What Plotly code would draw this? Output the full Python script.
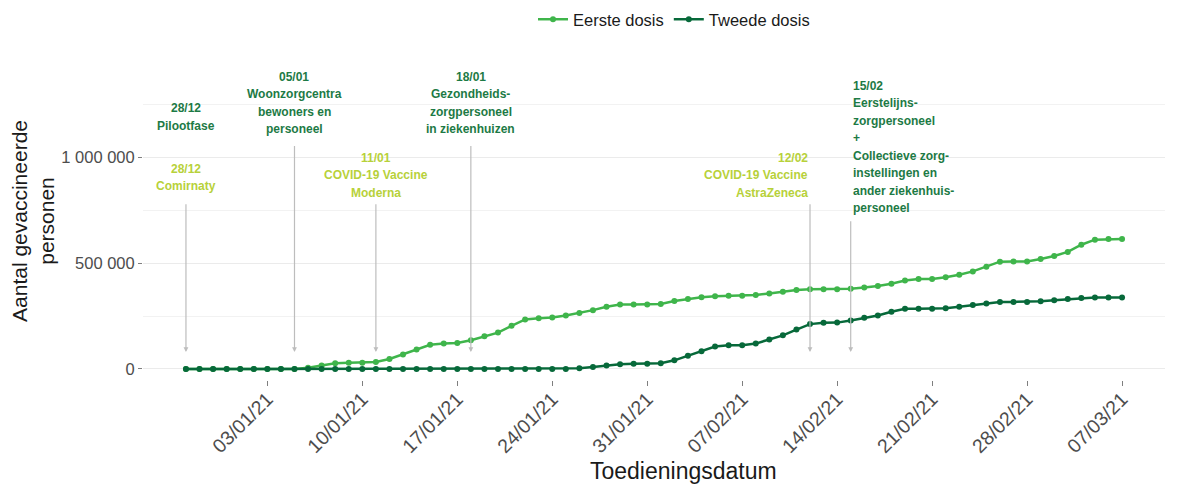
import plotly.graph_objects as go
import pandas as pd

# ---- data ----
dates = [d.strftime("%Y-%m-%d") for d in pd.date_range("2020-12-28", "2021-03-07", freq="D")]

eerste_dosis = [0, 0, 0, 0, 0, 0, 0, 0, 0,
                6000, 16000, 27000, 30000, 30000, 33000, 47000, 69000, 92000, 114000,
                120000, 123000, 136000, 155000, 172000, 204000, 234000, 240000, 243000, 253000,
                265000, 278000, 294000, 305000, 305000, 305000, 307000, 321000, 330000, 339000,
                344000, 346000, 346000, 349000, 357000, 365000, 373000, 377000, 377000, 377000,
                379000, 385000, 392000, 403000, 418000, 425000, 425000, 433000, 445000, 461000,
                483000, 507000, 508000, 508000, 520000, 534000, 553000, 587000, 611000, 614000,
                614000]

tweede_dosis = [0] * 29 + [3000, 9500, 16000, 22000, 25000, 25000, 27000, 41000, 62000, 84000,
                           106000, 112000, 112000, 120000, 139000, 159000, 186000, 212000, 218000, 219000,
                           229000, 242000, 253000, 270000, 284000, 284000, 284000, 287000, 294000, 302000,
                           309000, 316000, 317000, 317000, 320000, 325000, 330000, 335000, 338000, 338000,
                           338000]

x_tickvals = ["2021-01-03", "2021-01-10", "2021-01-17", "2021-01-24", "2021-01-31",
              "2021-02-07", "2021-02-14", "2021-02-21", "2021-02-28", "2021-03-07"]
x_ticktext = ["03/01/21", "10/01/21", "17/01/21", "24/01/21", "31/01/21",
              "07/02/21", "14/02/21", "21/02/21", "28/02/21", "07/03/21"]

y_tickvals = [0, 500000, 1000000]
y_ticktext = ["0", "500 000", "1 000 000"]
y_minor = [250000, 750000, 1250000]

# events: date, text lines, kind ('fase' dark / 'vaccin' light), text bottom value, arrow tail value, anchor
event_dates = ["2020-12-28", "2020-12-28", "2021-01-05", "2021-01-11", "2021-01-18", "2021-02-12", "2021-02-15"]
event_lines = [
    ["28/12", "Pilootfase"],
    ["28/12", "Comirnaty"],
    ["05/01", "Woonzorgcentra", "bewoners en", "personeel"],
    ["11/01", "COVID-19 Vaccine", "Moderna"],
    ["18/01", "Gezondheids-", "zorgpersoneel", "in ziekenhuizen"],
    ["12/02", "COVID-19 Vaccine", "AstraZeneca"],
    ["15/02", "Eerstelijns-", "zorgpersoneel", "+", "Collectieve zorg-", "instellingen en",
     "ander ziekenhuis-", "personeel"],
]
event_kind = ["fase", "vaccin", "fase", "vaccin", "fase", "vaccin", "fase"]
event_text_bottom = [1106000, 820000, 1091000, 790000, 1091000, 790000, 717000]
event_arrow_tail = [None, 785000, 1060000, 785000, 1060000, 785000, 705000]
event_anchor = ["center", "center", "center", "center", "center", "right", "left"]
arrow_head_value = 80000

# ---- styling ----
c_eerste = "#3fb54b"
c_tweede = "#07693a"
c_fase = "#1d7a45"
c_vaccin = "#b7d13a"
line_h = 17.5
FONT = "Liberation Sans, Arial, sans-serif"

# The page body has an 8px default margin; plot area wanted at window x 143..1165, y 62..380
OFF = 8
PL, PR, PT, PB = 143, 1165, 62, 380
W, H = 1192, 486


def px(X):
    return (X - PL) / (PR - PL)


def py(Y):
    return (PB - Y) / (PB - PT)


fig = go.Figure()
fig.add_trace(go.Scatter(x=dates, y=eerste_dosis, mode="lines+markers", name="Eerste dosis",
                         line=dict(color=c_eerste, width=2.5), marker=dict(size=6, color=c_eerste)))
fig.add_trace(go.Scatter(x=dates, y=tweede_dosis, mode="lines+markers", name="Tweede dosis",
                         line=dict(color=c_tweede, width=2.5), marker=dict(size=6, color=c_tweede)))

annotations = []
for d, lines, kind, bottom, tail, anc in zip(event_dates, event_lines, event_kind,
                                              event_text_bottom, event_arrow_tail, event_anchor):
    col = c_fase if kind == "fase" else c_vaccin
    n = len(lines)
    for i, t in enumerate(lines):
        annotations.append(dict(
            x=d, y=bottom, xref="x", yref="y", text="<b>%s</b>" % t, showarrow=False,
            xanchor=anc, yanchor="bottom", yshift=(n - 1 - i) * line_h,
            align=anc if anc != "center" else "center",
            font=dict(family=FONT, size=12, color=col),
        ))
    if tail is not None:
        annotations.append(dict(
            x=d, y=arrow_head_value, xref="x", yref="y", ax=d, ay=tail, axref="x", ayref="y",
            text="", showarrow=True, arrowhead=2, arrowsize=0.8, arrowwidth=1.2,
            arrowcolor="#bdbdbd", standoff=0, startstandoff=0,
        ))

# x-axis title placed as in the reference
annotations.append(dict(x=px(683), y=py(471), xref="paper", yref="paper", text="Toedieningsdatum",
                        xanchor="center", yanchor="middle", showarrow=False,
                        font=dict(family=FONT, size=23, color="#1a1a1a")))

fig.update_layout(
    width=W, height=H,
    margin=dict(l=PL - OFF, r=W + OFF - PR, t=PT - OFF, b=H + OFF - PB, autoexpand=False),
    plot_bgcolor="white", paper_bgcolor="white",
    font=dict(family=FONT, color="#4d4d4d"),
    legend=dict(orientation="h", x=px(674), xanchor="center", y=py(2), yanchor="top",
                font=dict(size=16.5, color="#1a1a1a"), itemwidth=30),
    showlegend=True,
    annotations=annotations,
)

fig.update_xaxes(
    type="date", range=["2020-12-24 20:00", "2021-03-10 04:00"],
    tickvals=x_tickvals, ticktext=x_ticktext, tickangle=-45,
    tickfont=dict(size=19.5, color="#4d4d4d"),
    ticks="outside", ticklen=5, tickcolor="#7f7f7f", tickwidth=1, ticklabelstandoff=-6,
    showgrid=False, zeroline=False, showline=False, automargin=False,
)
fig.update_yaxes(
    range=[-52000, 1450000],
    tickvals=y_tickvals, ticktext=y_ticktext,
    tickfont=dict(size=16.5, color="#4d4d4d"),
    ticks="outside", ticklen=4, tickcolor="#7f7f7f", tickwidth=1,
    showgrid=True, gridcolor="#ebebeb", gridwidth=1.2,
    minor=dict(tickvals=y_minor, showgrid=True, gridcolor="#f2f2f2", gridwidth=0.8, ticks=""),
    zeroline=False, showline=False, automargin=False,
    title=dict(text="Aantal gevaccineerde<br>personen", font=dict(size=21, color="#1a1a1a"), standoff=1),
)

fig.write_html("out.html")
